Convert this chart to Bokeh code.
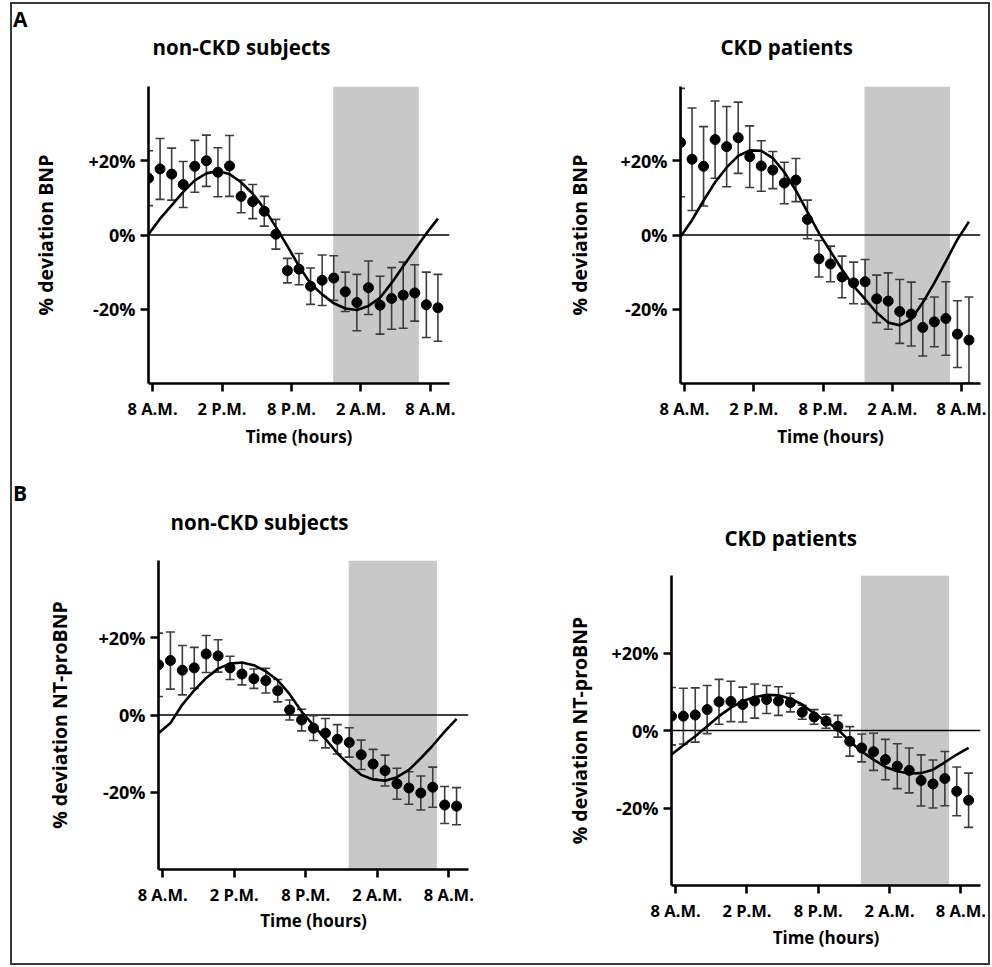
from bokeh.plotting import figure
from bokeh.models import (ColumnDataSource, Whisker, TeeHead, BoxAnnotation, Span,
                          FixedTicker, Title, Spacer)
from bokeh.layouts import column, row
from bokeh.core.properties import value
from bokeh.embed import file_html
from bokeh.resources import INLINE

# ---------------- data ----------------
# sampling times, hours after 8 A.M.
hours = [-0.35, 0.65, 1.65, 2.65, 3.65, 4.65, 5.65, 6.65, 7.65, 8.65, 9.65, 10.65, 11.65,
         12.65, 13.65, 14.65, 15.65, 16.65, 17.65, 18.65, 19.65, 20.65, 21.65, 22.65, 23.65, 24.65]
tick_hours = [0, 6, 12, 18, 24]
tick_labels = ["8 A.M.", "2 P.M.", "8 P.M.", "2 A.M.", "8 A.M."]
y_ticks = [-20, 0, 20]
y_tick_labels = ["-20%", "0%", "+20%"]
sleep_start = 15.6
sleep_end = 23.0

# A: BNP, non-CKD subjects
bnp_non_mean = [15.3, 17.8, 16.4, 13.6, 18.5, 20.0, 16.9, 18.6, 10.4, 9.0, 6.4, 0.2, -9.6,
                -9.2, -13.8, -12.2, -11.6, -15.3, -18.2, -14.2, -18.9, -17.1, -16.2, -15.6, -18.8, -19.6]
bnp_non_err = [7.4, 8.2, 7.0, 6.2, 7.0, 6.9, 6.6, 8.2, 4.4, 4.6, 4.0, 4.0, 3.3,
               4.2, 4.9, 6.8, 6.0, 5.3, 7.6, 7.2, 7.8, 8.3, 8.9, 7.6, 8.8, 9.0]
bnp_non_fit = [0.2, 4.4, 8.0, 11.6, 14.7, 16.6, 17.2, 16.4, 14.2, 11.1, 7.1, 2.2, -3.0,
               -8.4, -13.1, -16.0, -18.4, -19.8, -20.2, -19.1, -16.9, -12.9, -8.4, -4.0, 0.4, 4.4]

# A: BNP, CKD patients
bnp_ckd_mean = [24.9, 20.4, 18.5, 25.7, 23.8, 26.2, 21.1, 18.6, 17.5, 14.0, 14.8, 4.2, -6.4,
                -7.8, -11.3, -12.9, -12.6, -17.2, -17.8, -20.6, -21.3, -24.9, -23.4, -22.5, -26.7, -28.3]
bnp_ckd_err = [14.6, 13.8, 10.7, 10.4, 10.8, 9.6, 8.3, 6.8, 5.0, 5.6, 5.8, 5.2, 4.9,
               4.8, 5.6, 5.6, 6.0, 6.4, 7.6, 8.6, 8.6, 7.7, 6.7, 9.9, 9.0, 11.6]
bnp_ckd_fit = [-0.5, 4.0, 9.3, 14.2, 18.2, 21.3, 22.8, 22.7, 20.7, 16.9, 12.0, 6.2, 0.5,
               -4.4, -9.3, -13.8, -17.3, -20.9, -23.6, -24.3, -22.7, -18.2, -12.9, -7.1, -1.2, 3.6]

# B: NT-proBNP, non-CKD subjects
nt_non_mean = [13.0, 14.1, 11.6, 12.2, 15.8, 15.3, 12.2, 10.6, 9.4, 8.9, 6.3, 1.3, -1.3,
               -3.4, -4.7, -6.3, -7.1, -10.3, -12.7, -14.4, -17.8, -18.9, -20.2, -18.7, -23.3, -23.6]
nt_non_err = [8.2, 7.4, 6.4, 5.3, 4.8, 4.2, 3.0, 2.8, 2.5, 3.2, 2.9, 2.6, 2.8,
              3.2, 3.8, 3.8, 3.8, 3.8, 3.8, 4.0, 4.0, 4.2, 4.4, 5.2, 4.8, 4.8]
nt_non_fit = [-4.7, -2.1, 2.7, 6.4, 9.6, 12.0, 13.3, 13.6, 12.9, 11.3, 9.0, 5.4, 0.9,
              -2.7, -6.2, -9.9, -12.9, -15.5, -16.7, -17.0, -16.1, -14.2, -11.2, -7.9, -4.3, -1.0]

# B: NT-proBNP, CKD patients
nt_ckd_mean = [3.7, 3.7, 4.0, 5.4, 7.4, 7.5, 6.7, 7.6, 8.0, 7.6, 7.2, 4.7, 3.5,
               2.4, 1.1, -2.8, -4.5, -5.5, -7.5, -9.2, -10.3, -12.9, -13.8, -12.4, -15.7, -18.0]
nt_ckd_err = [7.4, 7.2, 7.0, 6.2, 5.8, 5.2, 4.5, 4.4, 3.6, 3.7, 2.4, 1.8, 1.9,
              1.8, 2.8, 3.8, 3.6, 4.8, 5.2, 5.8, 5.8, 6.6, 6.2, 7.0, 6.3, 7.0]
nt_ckd_fit = [-6.2, -3.8, -1.5, 1.1, 3.7, 5.9, 7.6, 8.6, 9.2, 9.1, 8.2, 6.7, 4.4,
              2.4, 0.3, -2.8, -5.4, -7.5, -9.4, -10.5, -11.1, -11.0, -10.1, -8.2, -6.2, -4.5]

FONT = "Open Sans"


def make_panel(title, ylabel, means, errs, fit, W, H, left, right, top, bottom,
               title_offset, title_standoff, ylab_standoff, xlab_standoff):
    p = figure(width=W, height=H, x_range=(-0.35, 25.65), y_range=(-40, 40),
               output_backend="svg", toolbar_location=None, title=None,
               min_border_left=left, min_border_right=right,
               min_border_top=top, min_border_bottom=bottom)
    p.outline_line_color = None
    p.grid.visible = False
    p.background_fill_color = "white"
    p.border_fill_color = None

    p.add_layout(Title(text=title, align="left", offset=title_offset, standoff=title_standoff,
                       text_font=FONT, text_font_size="20.5px", text_font_style="bold",
                       text_color="black"), "above")

    for ax in (p.xaxis[0], p.yaxis[0]):
        ax.axis_line_width = 2.6
        ax.axis_line_color = "black"
        ax.major_tick_line_width = 2.6
        ax.major_tick_line_color = "black"
        ax.major_tick_out = 8
        ax.major_tick_in = 0
        ax.minor_tick_line_color = None
        ax.major_label_text_font = FONT
        ax.major_label_text_font_style = "bold"
        ax.major_label_text_color = "black"
        ax.axis_label_text_font = FONT
        ax.axis_label_text_font_style = "bold"
        ax.axis_label_text_color = "black"
        ax.major_label_standoff = 5

    p.xaxis.ticker = FixedTicker(ticks=tick_hours)
    p.xaxis.major_label_overrides = dict(zip(tick_hours, tick_labels))
    p.xaxis.major_label_text_font_size = "16.5px"
    p.xaxis.axis_label = "Time (hours)"
    p.xaxis.axis_label_text_font_size = "17px"
    p.xaxis.axis_label_standoff = xlab_standoff

    p.yaxis.ticker = FixedTicker(ticks=y_ticks)
    p.yaxis.major_label_overrides = dict(zip(y_ticks, y_tick_labels))
    p.yaxis.major_label_text_font_size = "18px"
    p.yaxis.axis_label = ylabel
    p.yaxis.axis_label_text_font_size = "19.5px"
    p.yaxis.axis_label_text_line_height = 0.9
    p.yaxis.axis_label_standoff = ylab_standoff

    p.add_layout(BoxAnnotation(left=sleep_start, right=sleep_end, fill_color="#c8c8c8",
                               fill_alpha=1.0, line_color=None, level="underlay"))
    p.add_layout(Span(location=0, dimension="width", line_color="black",
                      line_width=1.3, level="underlay"))

    src = ColumnDataSource(dict(
        x=hours, y=means, fit=fit,
        upper=[m + e for m, e in zip(means, errs)],
        lower=[m - e for m, e in zip(means, errs)],
    ))
    p.add_layout(Whisker(source=src, base="x", upper="upper", lower="lower",
                         line_color="#3c3c3c", line_width=1.6, level="underlay",
                         upper_head=TeeHead(size=9, line_color="#3c3c3c", line_width=1.6),
                         lower_head=TeeHead(size=9, line_color="#3c3c3c", line_width=1.6)))
    p.scatter("x", "y", source=src, size=10, color="black")
    p.line("x", "fit", source=src, line_width=2.6, color="black")
    return p


def letter_panel(letter, H, from_top):
    # narrow strip holding the panel letter (A / B); ranges in pixels
    f = figure(width=16, height=H, x_range=(0, 16), y_range=(0, H),
               x_axis_location=None, y_axis_location=None, min_border=0,
               output_backend="svg", toolbar_location=None)
    f.outline_line_color = None
    f.grid.visible = False
    f.background_fill_color = None
    f.border_fill_color = None
    f.text(x=[0.5], y=[H - from_top], text=[letter], text_font=value(FONT),
           text_font_size="21px", text_font_style="bold", text_color="black",
           text_align="left", text_baseline="middle")
    return f


# content origin inside the framing border: x=12, y=4; letter strip 12..28
lA = letter_panel("A", 466, 14)
lB = letter_panel("B", 493, 22)
pA1 = make_panel("non-CKD subjects", "% deviation BNP", bnp_non_mean, bnp_non_err, bnp_non_fit,
                 468, 466, 120, 47, 81, 87, 4, 52, 26, 2)
pA2 = make_panel("CKD patients", "% deviation BNP", bnp_ckd_mean, bnp_ckd_err, bnp_ckd_fit,
                 492, 466, 184, 8, 81, 87, 40, 52, 24, 2)
pB1 = make_panel("non-CKD subjects", "% deviation NT-proBNP", nt_non_mean, nt_non_err, nt_non_fit,
                 468, 493, 130, 28, 90, 94, 12, 50, 22, 0)
pB2 = make_panel("CKD patients", "% deviation NT-proBNP", nt_ckd_mean, nt_ckd_err, nt_ckd_fit,
                 492, 478, 175, 8, 90, 78, 53, 48, 15, 1)

layout = column(row(column(lA), column(pA1), column(pA2)),
                row(column(lB), column(pB1), column(Spacer(width=492, height=15), pB2)),
                styles={"border": "2px solid #3a3a3a", "margin-left": "10px",
                        "margin-top": "2px", "background-color": "white"})

open("out.html", "w").write(file_html(layout, INLINE))
